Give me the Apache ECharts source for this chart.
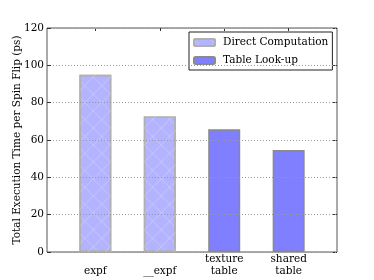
<!DOCTYPE html>
<html><head><meta charset="utf-8">
<script src="https://cdn.jsdelivr.net/npm/echarts@6/dist/echarts.min.js"></script>
<style>html,body{margin:0;padding:0;background:#fff}#c{width:374px;height:280px}</style>
</head><body><div id="c"></div>
<script>
var categories = ['\nexpf', '\n__expf', 'texture\ntable', 'shared\ntable'];
var directValues = [95, 72.6, null, null];
var tableValues = [null, null, 65.7, 54.6];
var yTicks = [0, 20, 40, 60, 80, 100, 120];
var seriesNames = ['Direct Computation', 'Table Look-up'];

var FONT = 'DejaVu Serif';
var FS = 10.5;
var pos = categories.map(function (c, i) { return i; });
function pts(vals) { return vals.map(function (v, i) { return [i, v]; }).filter(function (p) { return p[1] != null; }); }

var chart = echarts.init(document.getElementById('c'), null, { renderer: 'canvas' });
chart.setOption({
  animation: false,
  backgroundColor: '#fff',
  textStyle: { fontFamily: FONT },
  grid: { left: 47, right: 37, top: 28, bottom: 28, outerBoundsMode: 'none', containLabel: false,
    show: true, borderColor: '#555', borderWidth: 1, backgroundColor: 'transparent' },
  legend: {
    left: 189, top: 32, orient: 'vertical', itemWidth: 21, itemHeight: 7, itemGap: 7,
    padding: [5, 4, 4, 4], borderColor: '#222', borderWidth: 1, backgroundColor: '#fff',
    textStyle: { fontFamily: FONT, fontSize: FS, color: '#000', padding: [0, 0, 0, 3] },
    data: seriesNames
  },
  xAxis: [{
    type: 'value', min: -0.75, max: 3.75, position: 'bottom',
    axisLine: { show: false, onZero: false }, splitLine: { show: false },
    axisTick: { inside: true, length: 3, lineStyle: { color: '#333' }, customValues: pos },
    axisLabel: { customValues: pos, formatter: function (v) { return categories[Math.round(v)]; },
      fontFamily: FONT, fontSize: FS, color: '#000', lineHeight: 11.5, margin: 2 }
  }, {
    type: 'value', min: -0.75, max: 3.75, position: 'top',
    axisLine: { show: false, onZero: false }, splitLine: { show: false },
    axisTick: { inside: true, length: 3, lineStyle: { color: '#333' }, customValues: pos },
    axisLabel: { show: false, customValues: pos }
  }],
  yAxis: [{
    type: 'value', min: 0, max: 120, interval: 20, z: 10,
    name: 'Total Execution Time per Spin Flip (ps)', nameLocation: 'middle', nameGap: 24,
    nameMoveOverlap: false,
    nameTextStyle: { fontFamily: FONT, fontSize: FS, color: '#000' },
    axisLine: { show: false, onZero: false },
    axisTick: { inside: true, length: 4, lineStyle: { color: '#333' } },
    axisLabel: { fontFamily: FONT, fontSize: FS, color: '#000', margin: 3 },
    splitLine: { show: true, lineStyle: { type: [1, 2], color: '#999', width: 1 } }
  }, {
    type: 'value', min: 0, max: 120, interval: 20, position: 'right',
    axisLine: { show: false, onZero: false }, splitLine: { show: false },
    axisTick: { inside: true, length: 4, lineStyle: { color: '#333' } },
    axisLabel: { show: false }
  }],
  series: [{
    name: seriesNames[0], type: 'bar', barWidth: 32, barGap: '-100%', z: 2,
    data: pts(directValues),
    itemStyle: { color: '#b3b3ff', borderColor: '#b0b0b0', borderWidth: 1.5,
      decal: { symbol: 'rect', color: 'rgba(255,255,255,0.18)', dashArrayX: [1, 0], dashArrayY: [1, 11], rotation: Math.PI / 4 } }
  }, {
    name: 'hatch', type: 'bar', barWidth: 32, barGap: '-100%', z: 3, silent: true,
    data: pts(directValues),
    itemStyle: { color: 'rgba(0,0,0,0)', borderWidth: 0,
      decal: { symbol: 'rect', color: 'rgba(255,255,255,0.18)', dashArrayX: [1, 0], dashArrayY: [1, 11], rotation: -Math.PI / 4 } }
  }, {
    name: seriesNames[1], type: 'bar', barWidth: 32, barGap: '-100%', z: 2,
    data: pts(tableValues),
    itemStyle: { color: '#7f7fff', borderColor: '#8a8a8a', borderWidth: 1.5 }
  }]
});
</script></body></html>
